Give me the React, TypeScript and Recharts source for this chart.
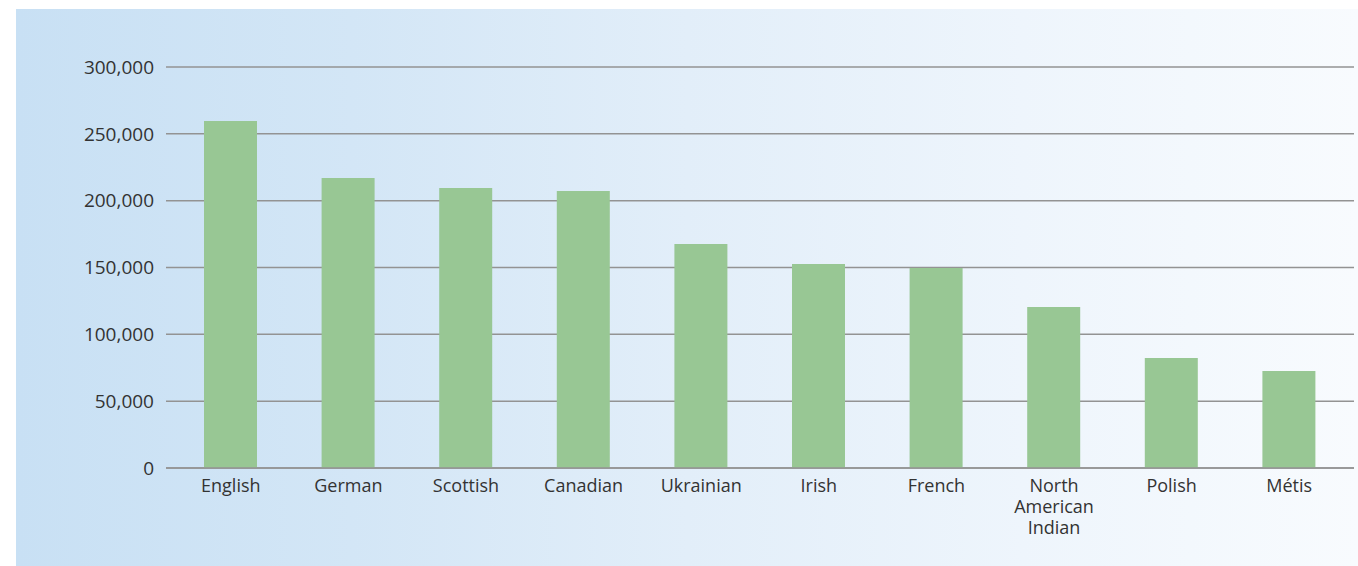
import React from 'react';
import { BarChart, Bar, XAxis, YAxis, CartesianGrid } from 'recharts';

const categories = ['English', 'German', 'Scottish', 'Canadian', 'Ukrainian', 'Irish', 'French', 'North American Indian', 'Polish', 'Métis'];
const populationValues = [259600, 217000, 209500, 207300, 167600, 152600, 149600, 120400, 82300, 72600];
const yTicks = [0, 50000, 100000, 150000, 200000, 250000, 300000];

const data = categories.map((name, i) => ({ name, value: populationValues[i] }));

const FONT = '"Open Sans", sans-serif';
const TEXT = '#333333';
const GRID = '#939393';

const XTick = (props: any) => {
  const { x, y, payload } = props;
  const words = String(payload.value).split(' ');
  return (
    <text x={x} y={y} textAnchor="middle" fill={TEXT} fontFamily={FONT} fontSize={18}>
      {words.map((w: string, i: number) => (
        <tspan key={i} x={x} dy={i === 0 ? 18 : 21}>{w}</tspan>
      ))}
    </text>
  );
};

export default function App() {
  return (
    <div style={{ position: 'fixed', left: 0, top: 0, width: 1358, height: 566, background: '#ffffff' }}>
      <div
        style={{
          position: 'absolute',
          left: 16,
          top: 9,
          width: 1342,
          height: 557,
          background: 'linear-gradient(to right, #c8e0f4 0%, #d3e6f6 25%, #e2eef9 50%, #eef5fc 75%, #f8fbfe 100%)',
        }}
      >
        <BarChart width={1342} height={557} data={data} margin={{ top: 58, right: 4, bottom: 0, left: 0 }}>
          <CartesianGrid vertical={false} stroke={GRID} strokeWidth={1.5} />
          <XAxis
            dataKey="name"
            height={98}
            padding={{ left: 6, right: 6 }}
            tick={<XTick />}
            tickLine={false}
            axisLine={{ stroke: GRID, strokeWidth: 1.5 }}
            interval={0}
            tickSize={0}
            tickMargin={6}
          />
          <YAxis
            width={150}
            domain={[0, 300000]}
            ticks={yTicks}
            tickFormatter={(v: number) => v.toLocaleString('en-US')}
            tick={{ fill: TEXT, fontFamily: FONT, fontSize: 19 }}
            tickLine={false}
            axisLine={false}
            tickSize={0}
            tickMargin={12}
          />
          <Bar dataKey="value" fill="#98c794" barSize={53} isAnimationActive={false} />
        </BarChart>
      </div>
    </div>
  );
}
